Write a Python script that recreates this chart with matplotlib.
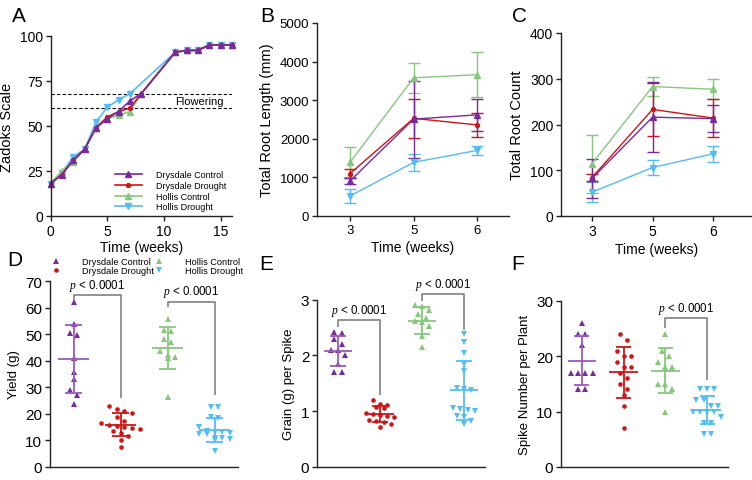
import numpy as np
import matplotlib
matplotlib.use('Agg')
import matplotlib.pyplot as plt

W, H = 752, 481

SERIES = ['Drysdale Control', 'Drysdale Drought', 'Hollis Control', 'Hollis Drought']
COLORS = ['#7B2A9E', '#D11414', '#86C77C', '#52BDF5']
BAR_COLORS = ['#9A5BBE', '#D11414', '#86C77C', '#52BDF5']
MARKERS = ['^', 'o', '^', 'v']

# A: Zadoks growth stage by week
zadoks_weeks = [0, 1, 2, 3, 4, 5, 6, 7, 8, 11, 12, 13, 14, 15, 16]
zadoks_weeks_hd = [0, 1, 2, 3, 4, 5, 6, 7, 11, 12, 13, 14, 15, 16]
zadoks_dc = [18, 23, 31, 37, 49, 54, 58, 64, 68, 91, 92, 92, 95, 95, 95]
zadoks_dd = [18, 23, 31, 37, 49, 55, 58, 60, 68, 91, 92, 92, 95, 95, 95]
zadoks_hc = [18, 25, 30, 37, 49, 54, 56, 58, 68, 91, 92, 92, 95, 95, 95]
zadoks_hd = [18, 24, 33, 37, 52, 60.5, 64.5, 68, 91, 92, 92, 95, 95, 95]
flowering = [60, 68]

# B / C: root measurements at weeks 3, 5, 6
root_weeks = ['3', '5', '6']
length_dc = [910, 2510, 2620]
length_dc_sd = [80, 1000, 410]
length_dd = [1100, 2530, 2360]
length_dd_sd = [105, 510, 320]
length_hc = [1390, 3580, 3660]
length_hc_sd = [390, 390, 590]
length_hd = [520, 1390, 1700]
length_hd_sd = [190, 225, 120]

count_dc = [82, 216, 213]
count_dc_sd = [42, 76, 30]
count_dd = [84, 233, 214]
count_dd_sd = [7, 58, 42]
count_hc = [114, 283, 277]
count_hc_sd = [64, 20, 22]
count_hd = [52, 106, 136]
count_hd_sd = [22, 17, 17]

# D / E / F: per-plant values
yield_dc = [62.2, 54.0, 50.5, 49.7, 40.9, 35.9, 33.1, 29.1, 27.1, 23.6]
yield_dd = [22.8, 22.0, 21.2, 20.5, 19.0, 17.5, 16.5, 15.8, 15.5, 15.0, 14.8, 14.2,
            13.5, 12.8, 11.5, 10.0, 7.5]
yield_hc = [55.7, 51.5, 51.0, 48.0, 47.0, 43.5, 42.0, 41.5, 41.0, 26.5]
yield_hd = [22.7, 22.5, 19.0, 18.5, 15.0, 13.5, 13.0, 12.8, 13.0, 12.5, 12.5, 11.0,
            11.0, 10.5, 10.0, 6.2]

grain_dc = [2.42, 2.40, 2.30, 2.20, 2.10, 2.10, 2.00, 1.85, 1.70, 1.70]
grain_dd = [1.21, 1.13, 1.12, 1.08, 1.05, 0.97, 0.95, 0.93, 0.92, 0.90, 0.85, 0.82,
            0.80, 0.78, 0.72]
grain_hc = [2.90, 2.88, 2.82, 2.75, 2.68, 2.62, 2.60, 2.52, 2.35, 2.15]
grain_hd = [2.38, 2.24, 2.04, 1.85, 1.73, 1.42, 1.40, 1.38, 1.05, 1.04, 1.02, 1.00,
            0.92, 0.90, 0.82, 0.78]

spikes_dc = [26, 24, 24, 22, 17, 17, 17, 17, 14, 14]
spikes_dd = [24, 23, 21, 20, 20, 19, 18, 18, 17, 16, 15, 14, 13, 11, 7]
spikes_hc = [24, 21, 20, 19, 18, 18, 15, 15, 14, 10]
spikes_hd = [14, 14, 14, 12, 12, 11, 11, 10, 10, 10, 10, 9, 8, 8, 6, 6]

P_TEXT = r'$p$ < 0.0001'

plt.rcParams['font.family'] = ['Liberation Sans', 'DejaVu Sans']
plt.rcParams['mathtext.fontset'] = 'custom'
plt.rcParams['mathtext.it'] = 'Liberation Serif:italic'
plt.rcParams['mathtext.rm'] = 'Liberation Sans'


def rect(left, top, right, bottom):
    """Pixel box -> figure fraction rectangle."""
    return [left / W, 1 - bottom / H, (right - left) / W, (bottom - top) / H]


def marker_size(i, big=4.5, small=3.3):
    return small if MARKERS[i] == 'o' else big


def style_axes(ax, labelsize):
    for side in ['top', 'right']:
        ax.spines[side].set_visible(False)
    for side in ['left', 'bottom']:
        ax.spines[side].set_linewidth(1.0)
        ax.spines[side].set_color('#222222')
    ax.tick_params(direction='out', length=3.5, width=1.0, color='#222222', labelsize=labelsize, pad=2)


def swarm_offsets(values, bin_size, step):
    values = np.asarray(values)
    order = np.argsort(values)[::-1]
    offsets = np.zeros(len(values))
    groups, current = [], []
    for idx in order:
        if current and values[current[0]] - values[idx] > bin_size:
            groups.append(current)
            current = []
        current.append(idx)
    groups.append(current)
    for g in groups:
        n = len(g)
        for k, idx in enumerate(g):
            offsets[idx] = (k - (n - 1) / 2) * step
    return offsets


def plot_root(ax, means, sds, ylim, yticks, ylabel, labelsize):
    x = np.arange(len(root_weeks))
    for i in [2, 3, 1, 0]:
        ax.errorbar(x, means[i], yerr=sds[i], color=COLORS[i], marker=MARKERS[i],
                    markersize=marker_size(i, 3.8, 2.8), linewidth=1.0, capsize=4, capthick=1.0,
                    elinewidth=1.0, clip_on=False)
    ax.set_xticks(x)
    ax.set_xticklabels(root_weeks)
    ax.set_ylim(*ylim)
    ax.set_yticks(yticks)
    style_axes(ax, labelsize)
    ax.set_xlabel('Time (weeks)', fontsize=10, labelpad=3)
    ax.set_ylabel(ylabel, fontsize=10.5)


def plot_scatter(ax, groups, ylim, yticks, ylabel, brackets, bin_size):
    span = ylim[1] - ylim[0]
    for i, values in enumerate(groups):
        values = np.asarray(values, dtype=float)
        x = i + swarm_offsets(values, bin_size * span, 0.17)
        ax.plot(x, values, linestyle='none', marker=MARKERS[i], color=COLORS[i], markersize=marker_size(i),
                markeredgewidth=0, clip_on=False)
        mean = values.mean()
        sd = values.std(ddof=1)
        ax.hlines(mean, i - 0.34, i + 0.34, color=BAR_COLORS[i], linewidth=1.3)
        ax.hlines([mean - sd, mean + sd], i - 0.18, i + 0.18, color=BAR_COLORS[i], linewidth=1.3)
        ax.vlines(i, mean - sd, mean + sd, color=BAR_COLORS[i], linewidth=1.3)

    for left, right, y_left, y_top, y_right in brackets:
        ax.plot([left, left, right, right], [y_left, y_top, y_top, y_right], color='#8a8a8a',
                linewidth=1.3, clip_on=False)
        ax.text((left + right) / 2, y_top + 0.012 * span, P_TEXT, ha='center', va='bottom',
                fontsize=8.3)

    ax.set_xlim(-0.5, 3.5)
    ax.set_ylim(*ylim)
    ax.set_yticks(yticks)
    ax.set_xticks([])
    style_axes(ax, 11)
    ax.set_ylabel(ylabel, fontsize=9.5)


def main():
    fig = plt.figure(figsize=(W / 100, H / 100), dpi=100)

    # A
    ax_a = fig.add_axes(rect(50.5, 37, 232, 217))
    ax_a.axhline(flowering[1], color='black', linestyle=(0, (3, 2)), linewidth=0.8)
    ax_a.axhline(flowering[0], color='black', linestyle=(0, (3, 2)), linewidth=0.8)
    ax_a.text(11, np.mean(flowering), 'Flowering', fontsize=8, va='center', ha='left')
    lines = {}
    series_a = [(zadoks_weeks, zadoks_dc), (zadoks_weeks, zadoks_dd), (zadoks_weeks, zadoks_hc),
                (zadoks_weeks_hd, zadoks_hd)]
    for i in [3, 2, 1, 0]:
        xs, ys = series_a[i]
        lines[i], = ax_a.plot(xs, ys, color=COLORS[i], marker=MARKERS[i], markersize=marker_size(i, 4, 2.8),
                              linewidth=1.2, label=SERIES[i], clip_on=False)
    ax_a.set_xlim(0, 16)
    ax_a.set_ylim(0, 100)
    ax_a.set_xticks([0, 5, 10, 15])
    ax_a.set_yticks([0, 25, 50, 75, 100])
    style_axes(ax_a, 10)
    ax_a.set_xlabel('Time (weeks)', fontsize=10, labelpad=2)
    ax_a.set_ylabel('Zadoks Scale', fontsize=10.5)
    ax_a.legend([lines[i] for i in range(4)], SERIES, loc='lower left', bbox_to_anchor=(0.31, -0.02),
                frameon=False, fontsize=6.5, handlelength=3.0, handletextpad=1.5, labelspacing=0.2)

    # B
    ax_b = fig.add_axes(rect(317, 24, 509, 217))
    ax_b.set_xlim(-0.52, 2.5)
    plot_root(ax_b, [length_dc, length_dd, length_hc, length_hd],
              [length_dc_sd, length_dd_sd, length_hc_sd, length_hd_sd],
              (0, 5000), range(0, 5001, 1000), 'Total Root Length (mm)', 9.5)

    # C
    ax_c = fig.add_axes(rect(561, 34, 752, 217))
    ax_c.set_xlim(-0.51, 2.64)
    plot_root(ax_c, [count_dc, count_dd, count_hc, count_hd],
              [count_dc_sd, count_dd_sd, count_hc_sd, count_hd_sd],
              (0, 400), range(0, 401, 100), 'Total Root Count', 10)

    # D
    ax_d = fig.add_axes(rect(50, 282, 238, 468))
    plot_scatter(ax_d, [yield_dc, yield_dd, yield_hc, yield_hd], (0, 70), range(0, 71, 10), 'Yield (g)',
                 [(0, 1, 63.2, 64.7, 26.2), (2, 3, 60.7, 62.2, 27.5)], 0.035)
    handles = [plt.Line2D([], [], linestyle='none', marker=MARKERS[i], color=COLORS[i],
                          markersize=marker_size(i), markeredgewidth=0) for i in range(4)]
    ax_d.legend(handles, SERIES, ncol=2, loc='lower left', bbox_to_anchor=(-0.005, 1.015), frameon=False,
                fontsize=6.6, handlelength=1.0, handletextpad=2.3, columnspacing=0.1, labelspacing=0.05,
                borderaxespad=0.1, borderpad=0.2)

    # E
    ax_e = fig.add_axes(rect(317, 300.7, 485, 468))
    plot_scatter(ax_e, [grain_dc, grain_dd, grain_hc, grain_hd], (0, 3), range(0, 4), 'Grain (g) per Spike',
                 [(0, 1, 2.53, 2.63, 1.31), (2, 3, 3.0, 3.1, 2.47)], 0.035)

    # F
    ax_f = fig.add_axes(rect(561, 301.7, 728, 468))
    plot_scatter(ax_f, [spikes_dc, spikes_dd, spikes_hc, spikes_hd], (0, 30), range(0, 31, 10),
                 'Spike Number per Plant', [(2, 3, 25.2, 26.8, 15.9)], 0.035)

    for letter, x, y in [('A', 12, 17), ('B', 260, 17), ('C', 512, 16), ('D', 7, 261), ('E', 259, 265),
                         ('F', 511, 265)]:
        fig.text(x / W, 1 - y / H, letter, fontsize=15, ha='left', va='center')

    fig.savefig('out.png', dpi=100)


if __name__ == '__main__':
    main()
